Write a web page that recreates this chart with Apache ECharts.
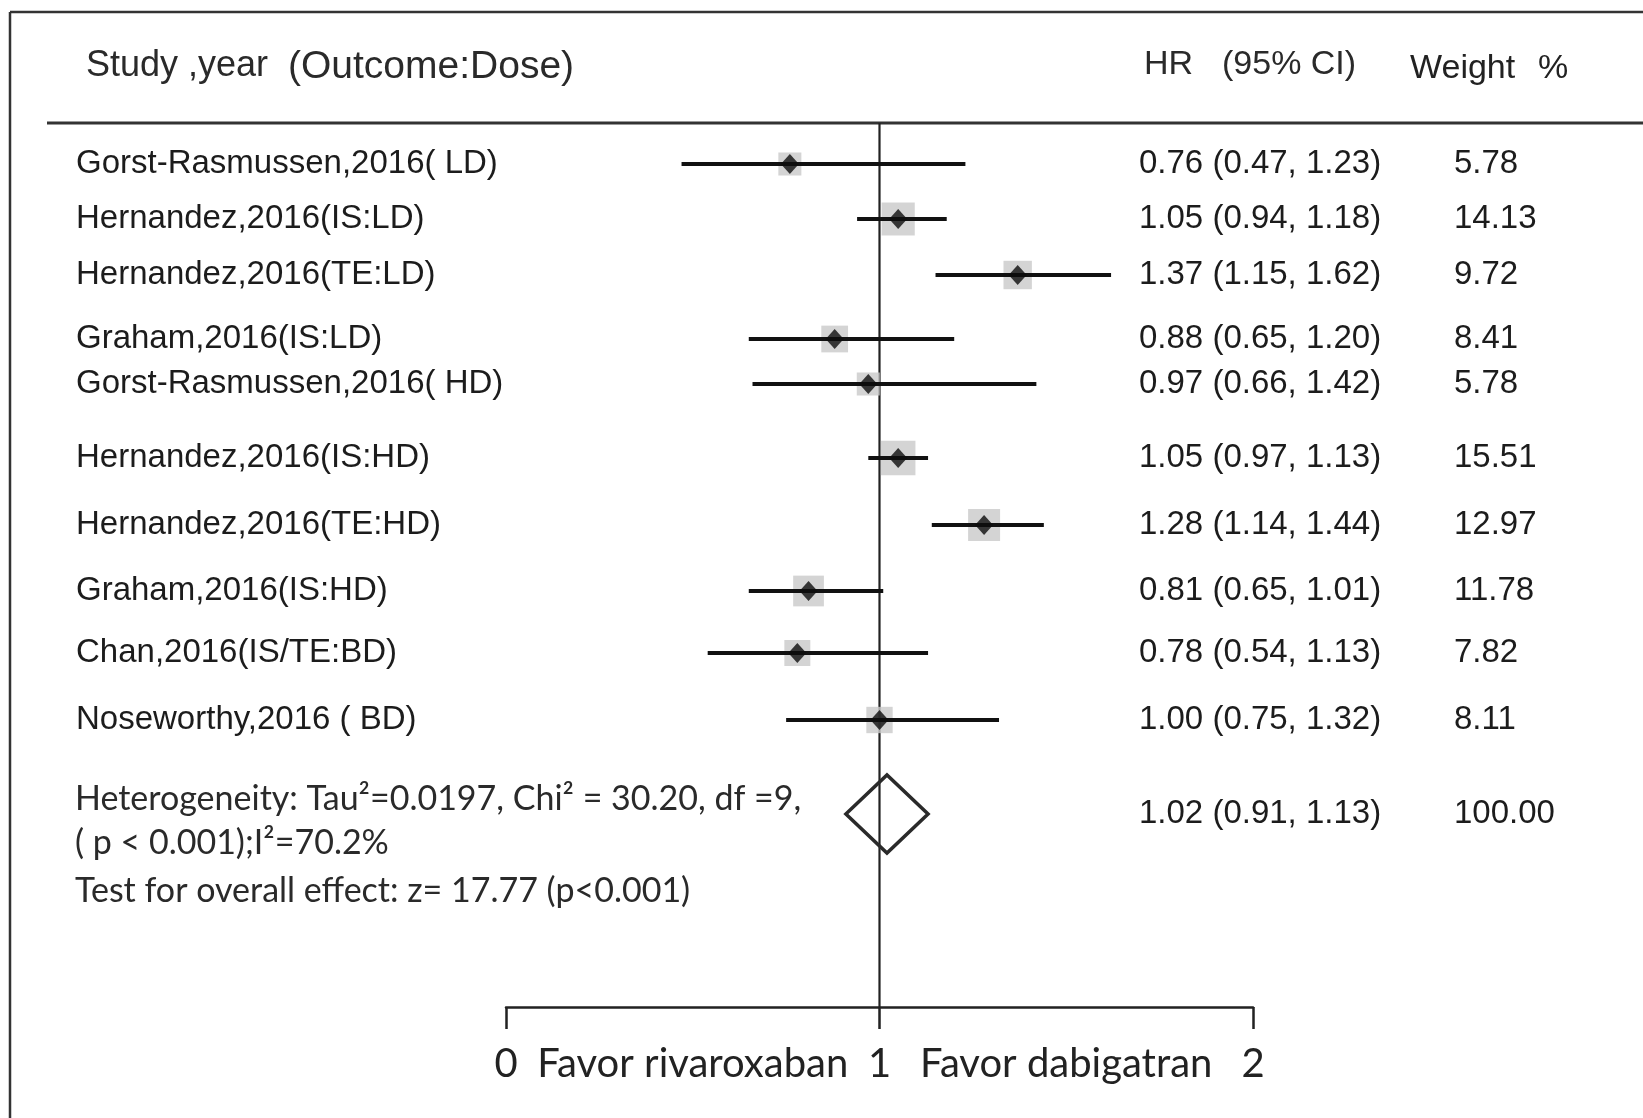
<!DOCTYPE html>
<html>
<head>
<meta charset="utf-8">
<script src="https://cdn.jsdelivr.net/npm/echarts@6/dist/echarts.min.js"></script>
<style>
  html, body { margin: 0; padding: 0; background: #ffffff; }
  #chart { width: 1643px; height: 1118px; }
</style>
</head>
<body>
<div id="chart"></div>
<script>
// Individual studies: hazard ratio, 95% CI and weight (%)
const studies = [
  'Gorst-Rasmussen,2016( LD)',
  'Hernandez,2016(IS:LD)',
  'Hernandez,2016(TE:LD)',
  'Graham,2016(IS:LD)',
  'Gorst-Rasmussen,2016( HD)',
  'Hernandez,2016(IS:HD)',
  'Hernandez,2016(TE:HD)',
  'Graham,2016(IS:HD)',
  'Chan,2016(IS/TE:BD)',
  'Noseworthy,2016 ( BD)'
];
const hr     = [0.76, 1.05, 1.37, 0.88, 0.97, 1.05, 1.28, 0.81, 0.78, 1.00];
const ciLow  = [0.47, 0.94, 1.15, 0.65, 0.66, 0.97, 1.14, 0.65, 0.54, 0.75];
const ciHigh = [1.23, 1.18, 1.62, 1.20, 1.42, 1.13, 1.44, 1.01, 1.13, 1.32];
const weights = [5.78, 14.13, 9.72, 8.41, 5.78, 15.51, 12.97, 11.78, 7.82, 8.11];

// Pooled estimate: HR, lower, upper
const pooled = [1.02, 0.91, 1.13];
const pooledWeight = 100.00;

const axisTicks = [0, 1, 2];
const sideLabels = ['Favor rivaroxaban', 'Favor dabigatran'];
const heterogeneity = [
  'Heterogeneity: Tau\u00B2=0.0197, Chi\u00B2 = 30.20, df =9,',
  '( p < 0.001);I\u00B2=70.2%',
  'Test for overall effect: z= 17.77 (p<0.001)'
];

// Layout: vertical centre of each row (px from the top of the plot area)
const rowY = [164, 219, 275, 339, 384, 458, 525, 591, 653, 720];
const summaryY = 814;
const hetY = [799, 843, 891];
const plotTop = 123;       // header rule
const axisY = 1007;        // x axis line

const ARIAL = '"Liberation Sans", Arial, sans-serif';
const CALIBRI = 'Lato, "Open Sans", sans-serif';
const INK = '#1c1c1c';

function textEl(x, y, text, size, family, color, align) {
  return {
    type: 'text', x: x, y: y, silent: true,
    style: {
      text: text, fontSize: size, fontFamily: family, fill: color || INK,
      align: align || 'left', textAlign: align || 'left',
      verticalAlign: 'middle', textVerticalAlign: 'middle'
    }
  };
}

const chart = echarts.init(document.getElementById('chart'), null, { renderer: 'canvas' });

const fmt = v => v.toFixed(2);

const option = {
  backgroundColor: '#ffffff',
  animation: false,
  grid: { left: 506, right: 390, top: 0, height: axisY },
  xAxis: {
    type: 'value', min: 0, max: 2, interval: 1, position: 'bottom',
    axisLine: { show: true, onZero: false, lineStyle: { color: '#222', width: 2.5 } },
    axisTick: { show: true, length: 22, lineStyle: { color: '#222', width: 2.5 } },
    axisLabel: {
      show: true, margin: 37, fontSize: 40, fontFamily: CALIBRI, color: '#222',
      formatter: v => axisTicks.indexOf(v) >= 0 ? String(v) : ''
    },
    splitLine: { show: false }
  },
  yAxis: { type: 'value', min: 0, max: axisY, inverse: true, show: false },
  graphic: [
    // frame
    { type: 'line', silent: true, shape: { x1: 10, y1: 12, x2: 1643, y2: 12 }, style: { stroke: '#333', lineWidth: 2.5 } },
    { type: 'line', silent: true, shape: { x1: 10, y1: 12, x2: 10, y2: 1118 }, style: { stroke: '#333', lineWidth: 2.5 } },
    // header rule
    { type: 'line', silent: true, shape: { x1: 47, y1: plotTop, x2: 1643, y2: plotTop }, style: { stroke: '#333', lineWidth: 3 } },
    // header
    textEl(86, 66, 'Study ,year', 36, ARIAL, '#2a2a2a'),
    textEl(288, 67, '(Outcome:Dose)', 39, ARIAL, '#2a2a2a'),
    textEl(1144, 65, 'HR', 34, ARIAL, '#2a2a2a'),
    textEl(1222, 65, '(95% CI)', 34, ARIAL, '#2a2a2a'),
    textEl(1410, 69, 'Weight', 34, ARIAL, '#222'),
    textEl(1538, 69, '%', 34, ARIAL, '#222')
  ].concat(heterogeneity.map((t, i) => textEl(75, hetY[i], t, 34, CALIBRI, '#2a2a2a'))),
  series: [
    // line of no effect
    {
      type: 'custom', z: 1, clip: false, silent: true,
      data: [[1]],
      renderItem: (params, api) => {
        const top = api.coord([api.value(0), plotTop]);
        const bot = api.coord([api.value(0), axisY]);
        return { type: 'line', shape: { x1: top[0], y1: top[1], x2: bot[0], y2: bot[1] },
                 style: { stroke: '#222', lineWidth: 2.2 } };
      }
    },
    // weight boxes
    {
      type: 'scatter', z: 2, silent: true, symbol: 'rect',
      itemStyle: { color: '#c9c9c9' },
      symbolSize: v => 5 + 7.5 * Math.sqrt(v[2]),
      data: hr.map((h, i) => [h, rowY[i], weights[i]])
    },
    // confidence intervals
    {
      type: 'custom', z: 3, clip: false, silent: true,
      data: ciLow.map((lo, i) => [lo, ciHigh[i], rowY[i]]),
      renderItem: (params, api) => {
        const a = api.coord([api.value(0), api.value(2)]);
        const b = api.coord([api.value(1), api.value(2)]);
        return { type: 'line', shape: { x1: a[0], y1: a[1], x2: b[0], y2: b[1] },
                 style: { stroke: '#111', lineWidth: 4 } };
      }
    },
    // point estimates
    {
      type: 'scatter', z: 4, silent: true, symbol: 'diamond', symbolSize: [18, 20],
      itemStyle: { color: '#0d0d0d' },
      data: hr.map((h, i) => [h, rowY[i]])
    },
    // pooled estimate diamond
    {
      type: 'custom', z: 4, clip: false, silent: true,
      data: [[pooled[0], pooled[1], pooled[2], summaryY]],
      renderItem: (params, api) => {
        const mid = api.coord([api.value(0), api.value(3)]);
        const lo = api.coord([api.value(1), api.value(3)]);
        const hi = api.coord([api.value(2), api.value(3)]);
        const h = 39;
        return { type: 'polygon',
                 shape: { points: [[lo[0], mid[1]], [mid[0], mid[1] - h], [hi[0], mid[1]], [mid[0], mid[1] + h]] },
                 style: { fill: 'none', stroke: '#2a2a2a', lineWidth: 3.5, lineJoin: 'miter' } };
      }
    },
    // study names
    {
      type: 'custom', z: 5, clip: false, silent: true,
      data: studies.map((s, i) => [0, rowY[i]]),
      renderItem: (params, api) => {
        const p = api.coord([0, api.value(1)]);
        return textEl(76, p[1], studies[params.dataIndex], 33, ARIAL, INK);
      }
    },
    // HR (95% CI) and weight columns, pooled row included
    {
      type: 'custom', z: 5, clip: false, silent: true,
      data: hr.map((h, i) => [h, ciLow[i], ciHigh[i], weights[i], rowY[i]])
              .concat([[pooled[0], pooled[1], pooled[2], pooledWeight, summaryY]]),
      renderItem: (params, api) => {
        const p = api.coord([0, api.value(4)]);
        const txt = fmt(api.value(0)) + ' (' + fmt(api.value(1)) + ', ' + fmt(api.value(2)) + ')';
        return { type: 'group', children: [
          textEl(1139, p[1], txt, 33, ARIAL, INK),
          textEl(1454, p[1], fmt(api.value(3)), 33, ARIAL, INK)
        ] };
      }
    },
    // direction labels under the axis
    {
      type: 'custom', z: 5, clip: false, silent: true,
      data: [[(axisTicks[0] + axisTicks[1]) / 2], [(axisTicks[1] + axisTicks[2]) / 2]],
      renderItem: (params, api) => {
        const p = api.coord([api.value(0), axisY]);
        return textEl(p[0], 1064, sideLabels[params.dataIndex], 40, CALIBRI, '#222', 'center');
      }
    }
  ]
};

chart.setOption(option);
</script>
</body>
</html>
